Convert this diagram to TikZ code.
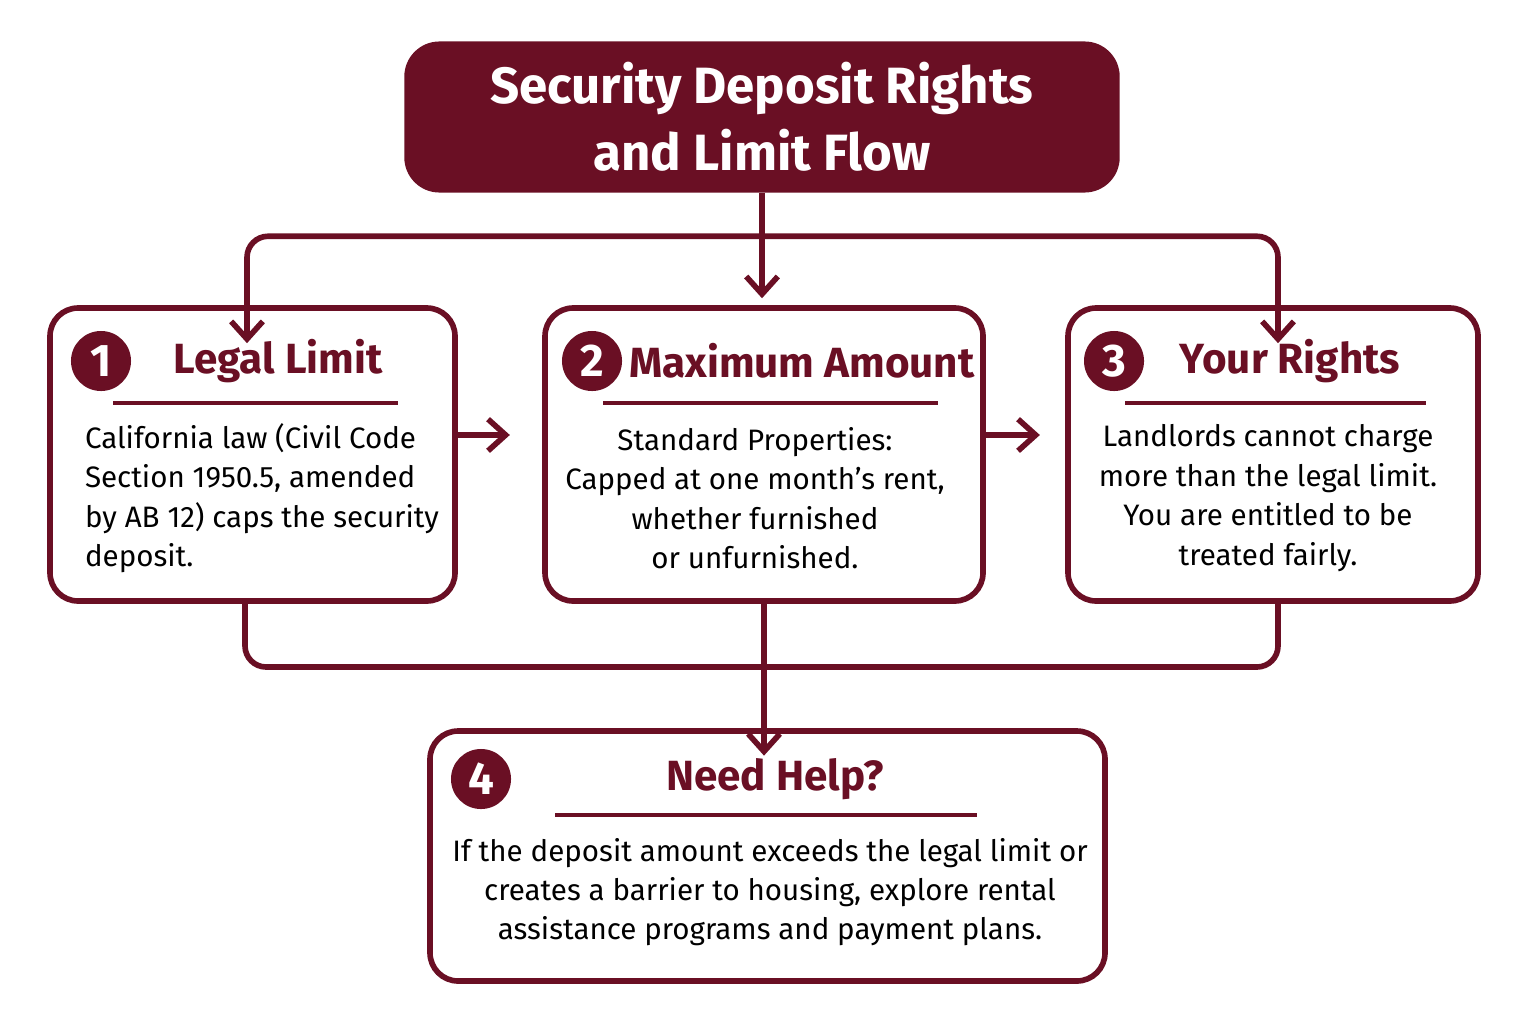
\documentclass[tikz,border=0pt]{standalone}
\usepackage{fontspec}
\setmainfont{Fira Sans}
\usetikzlibrary{positioning}
\definecolor{wine}{HTML}{6A0F24}
\tikzset{
  card/.style={draw=wine, line width=1.6pt, rounded corners=8pt, fill=white},
  num/.style={circle, fill=wine, text=white, minimum size=0.6cm, inner sep=0pt, font=\bfseries\fontsize{13}{13}\selectfont},
  head/.style={text=wine, font=\bfseries\fontsize{12}{12}\selectfont},
  body/.style={align=center, font=\fontsize{8.4}{11.2}\selectfont},
  rule/.style={draw=wine, line width=1.3pt},
  link/.style={draw=wine, line width=1.6pt, rounded corners=6pt},
  arr/.style={link, -{Straight Barb[length=5pt,width=9pt]}}
}
\usetikzlibrary{arrows.meta}
\begin{document}
\begin{tikzpicture}[x=0.01cm, y=-0.01cm]
  \useasboundingbox (0,0) rectangle (1531,1024);
  % title
  \node[fill=wine, rounded corners=10pt, minimum width=7.15cm, minimum height=1.51cm,
        text=white, align=center, font=\bfseries\fontsize{14.5}{19}\selectfont]
        (title) at (762,117) {Security Deposit Rights\\and Limit Flow};
  % cards
  \draw[card] (50,308) rectangle (455,601);
  \draw[card] (545,308) rectangle (983,601);
  \draw[card] (1068,308) rectangle (1478,601);
  \draw[card] (430,731) rectangle (1105,981);
  \coordinate (c1t) at (247,308); \coordinate (c2t) at (764,308); \coordinate (c3t) at (1278,308);
  \coordinate (c1b) at (245,601); \coordinate (c2b) at (764,601); \coordinate (c3b) at (1278,601);
  \coordinate (c4t) at (764,731);
  \coordinate (c1r) at (455,435); \coordinate (c2l) at (545,435);
  \coordinate (c2r) at (983,435); \coordinate (c3l) at (1068,435);
  % headings
  \node[num] (n1) at (101,361) {1};
  \node[head] (h1) at (278,361) {Legal Limit};
  \node[num] (n2) at (592,361) {2};
  \node[head] (h2) at (802,361) {Maximum Amount};
  \node[num] (n3) at (1114,361) {3};
  \node[head] (h3) at (1290,361) {Your Rights};
  \node[num] (n4) at (481,779) {4};
  \node[head] (h4) at (775,779) {Need Help?};
  \draw[rule] (113,403) -- (398,403);
  \draw[rule] (603,403) -- (938,403);
  \draw[rule] (1125,403) -- (1426,403);
  \draw[rule] (555,815) -- (977,815);
  % texts
  \node[body, align=left] (t1) at (262,498) {California law (Civil Code\\Section 1950.5, amended\\by AB 12) caps the security\\deposit.};
  \node[body] (t2) at (755,498) {Standard Properties:\\Capped at one month’s rent,\\whether furnished\\or unfurnished.};
  \node[body] (t3) at (1268,498) {Landlords cannot charge\\more than the legal limit.\\You are entitled to be\\treated fairly.};
  \node[body] (t4) at (770,892) {If the deposit amount exceeds the legal limit or\\creates a barrier to housing, explore rental\\assistance programs and payment plans.};
  % connectors
  \draw[arr] (title.south) -- ++(0,105);
  \draw[arr] (title.south) ++(0,43) -| ([yshift=-10]c1t);
  \draw[arr] (title.south) ++(0,43) -| ([yshift=-10]c3t);
  \draw[arr] (c1r) -- ([xshift=-10]c2l);
  \draw[arr] (c2r) -- ([xshift=-8]c3l);
  \draw[link] (c1b) |- (764,667) -| (c3b);
  \draw[link] (c2b) -- (764,667);
  \draw[arr] (764,660) -- ([yshift=-7]c4t);
\end{tikzpicture}
\end{document}
